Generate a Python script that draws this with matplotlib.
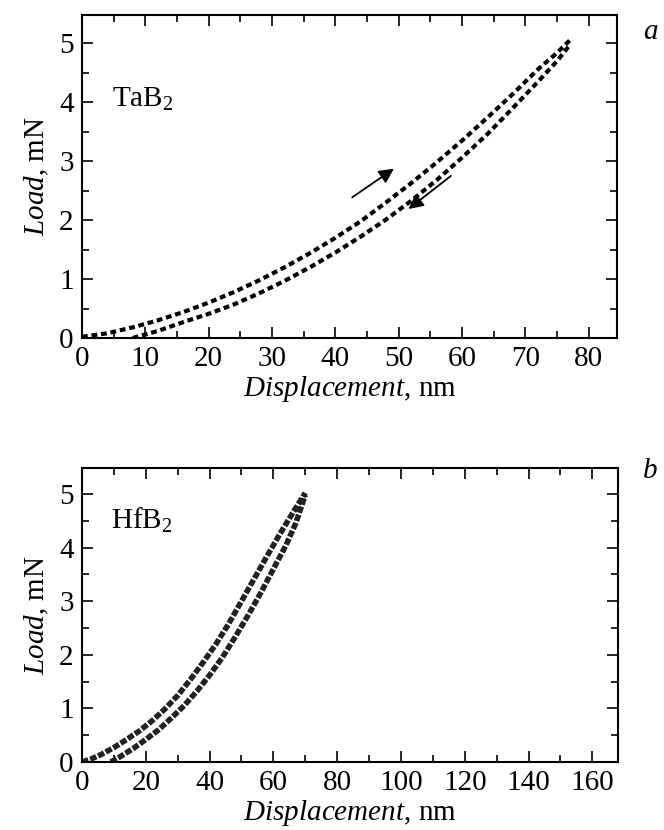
import matplotlib.pyplot as plt
from matplotlib.ticker import MultipleLocator

plt.rcParams['font.family'] = ['Liberation Serif', 'DejaVu Serif']
plt.rcParams['mathtext.fontset'] = 'custom'
plt.rcParams['mathtext.rm'] = 'Liberation Serif'
plt.rcParams['mathtext.it'] = 'Liberation Serif:italic'

# TaB2 (a): нагрузка и разгрузка
ta_load_x = [0, 4, 8, 12, 16, 20, 24, 28, 32, 36, 40, 44, 48, 52, 56, 60, 64, 68, 72, 75, 77]
ta_load_y = [0.02, 0.08, 0.18, 0.3, 0.44, 0.6, 0.78, 0.98, 1.2, 1.44, 1.7, 1.98,
             2.3, 2.63, 2.98, 3.35, 3.74, 4.14, 4.56, 4.84, 5.05]
ta_unload_x = [8, 12, 16, 20, 24, 28, 32, 36, 40, 44, 48, 52, 56, 60, 64, 68, 72, 75, 77]
ta_unload_y = [0.0, 0.12, 0.27, 0.41, 0.57, 0.76, 0.97, 1.2, 1.45, 1.72, 2.01, 2.33,
               2.68, 3.06, 3.46, 3.9, 4.35, 4.7, 4.97]

# HfB2 (b)
hf_load_x = [0, 3, 6, 10, 14, 18, 22, 26, 30, 34, 38, 42, 46, 50, 54, 58, 62, 66, 70]
hf_load_y = [0, 0.06, 0.14, 0.27, 0.42, 0.58, 0.77, 0.99, 1.24, 1.54, 1.86, 2.2,
             2.58, 3.0, 3.42, 3.84, 4.25, 4.64, 5.02]
hf_unload_x = [9, 12, 16, 20, 24, 28, 32, 36, 40, 44, 48, 52, 56, 60, 64, 67, 70]
hf_unload_y = [0, 0.1, 0.25, 0.42, 0.6, 0.82, 1.05, 1.32, 1.62, 1.95, 2.33, 2.73,
               3.15, 3.6, 4.05, 4.45, 4.98]

FS = 21

fig = plt.figure(figsize=(6.64, 8.3), dpi=100)
ax1 = fig.add_axes([0.1235, 0.5928, 0.806, 0.389])
ax2 = fig.add_axes([0.1235, 0.0819, 0.807, 0.354])


def style(ax, xmax, xmaj, xmin):
    ax.set_xlim(0, xmax)
    ax.set_ylim(0, 5.48)
    ax.xaxis.set_major_locator(MultipleLocator(xmaj))
    ax.xaxis.set_minor_locator(MultipleLocator(xmin))
    ax.yaxis.set_major_locator(MultipleLocator(1))
    ax.yaxis.set_minor_locator(MultipleLocator(0.5))
    ax.tick_params(which='both', direction='in', top=True, right=True,
                   labelsize=FS, width=1.2, pad=6)
    ax.tick_params(which='major', length=8)
    ax.tick_params(which='minor', length=5)
    for s in ax.spines.values():
        s.set_linewidth(1.5)
    ax.set_xlabel(r'$\mathit{Displacement}$, nm', fontsize=FS, labelpad=1)
    ax.set_ylabel(r'$\mathit{Load}$, mN', fontsize=FS, labelpad=6)


# (a)
ax1.plot(ta_load_x, ta_load_y, color='black', lw=3, dashes=(1.4, 0.9))
ax1.plot(ta_unload_x, ta_unload_y, color='black', lw=3, dashes=(1.4, 0.9))
ax1.annotate('', xy=(49.6, 2.9), xytext=(42.3, 2.36),
             arrowprops=dict(arrowstyle='-|>', color='black', lw=1.3,
                             mutation_scale=22))
ax1.annotate('', xy=(51.2, 2.16), xytext=(58.6, 2.78),
             arrowprops=dict(arrowstyle='-|>', color='black', lw=1.3,
                             mutation_scale=22))
ax1.text(4.8, 4.05, r'TaB$_2$', fontsize=FS, va='center')
style(ax1, 84.5, 10, 5)

# (b)
ax2.plot(hf_load_x, hf_load_y, color='#222222', lw=4, dashes=(1.2, 0.35))
ax2.plot(hf_unload_x, hf_unload_y, color='#222222', lw=4, dashes=(1.2, 0.35))
ax2.text(9, 4.5, r'HfB$_2$', fontsize=FS, va='center')
style(ax2, 168, 20, 10)

fig.text(0.979, 0.962, 'a', fontsize=FS, style='italic', ha='center', va='center')
fig.text(0.979, 0.433, 'b', fontsize=FS, style='italic', ha='center', va='center')

fig.savefig('out.png', dpi=100)
